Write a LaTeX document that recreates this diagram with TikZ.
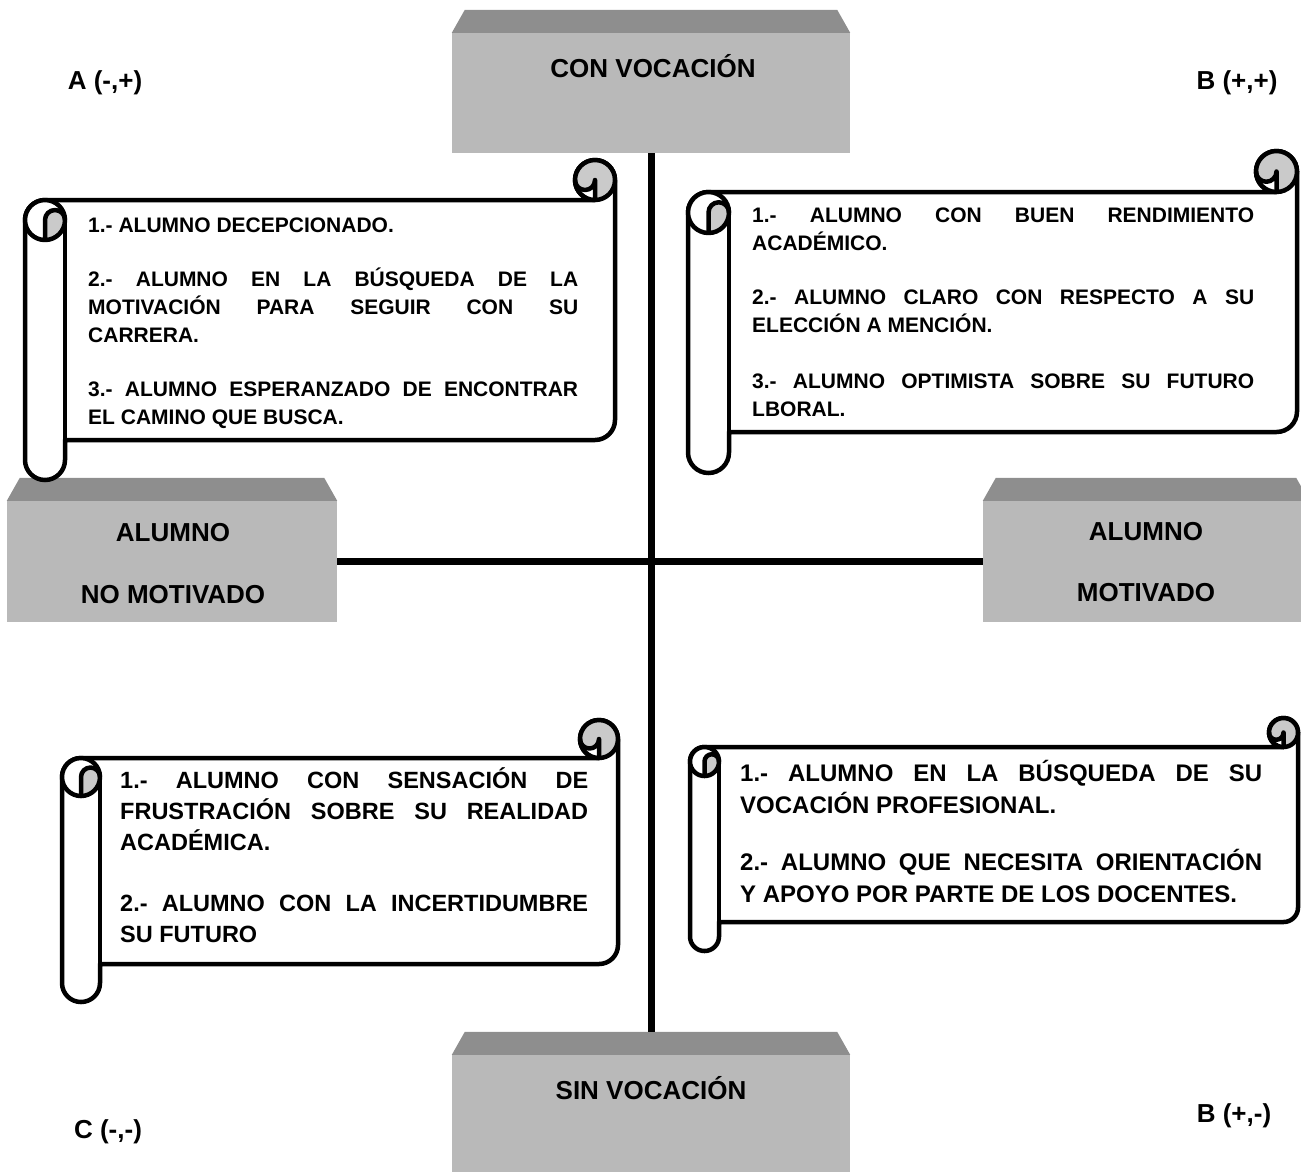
\documentclass[tikz,border=0pt]{standalone}
\usepackage{fontspec}
\setmainfont{Liberation Sans}
\usetikzlibrary{%
  positioning
 ,calc
}
\setlength\parindent{0pt}
\definecolor{gris}{HTML}{B9B9B9}
\definecolor{grisosc}{HTML}{8E8E8E}
\definecolor{grisclaro}{HTML}{CACACA}
\tikzstyle{frente}=[rectangle,fill=gris,draw=none,inner sep=0pt]
\tikzstyle{techo}=[fill=grisosc]
\tikzstyle{rotulo}=[font=\fontsize{26bp}{30bp}\selectfont\bfseries,align=center,inner sep=0pt]
\tikzstyle{esquina}=[rotulo,anchor=base]
\tikzstyle{eje}=[line width=7bp]
\tikzstyle{papel}=[line width=4.5bp,line join=round]
\tikzstyle{texto}=[anchor=base west,inner sep=0pt,align=justify]
% pergamino: x, y, ancho, alto, grosor del rollo
\newcommand\pergamino[5]{%
  \pgfmathsetmacro\rA{#5}\pgfmathsetmacro\rB{#5/2}\pgfmathsetmacro\rQ{#5/4}%
  \pgfmathsetmacro\rW{#3}\pgfmathsetmacro\rH{#4}%
  \begin{scope}[shift={(#1,#2)}]
    \draw[papel,fill=white] (0,\rA+\rB) arc[start angle=180,end angle=270,radius=\rB]
      -- (\rW-\rB,\rA) arc[start angle=90,end angle=360,radius=\rB]
      -- (\rW,\rH-\rA-\rB) arc[start angle=0,end angle=90,radius=\rB]
      -- (\rA,\rH-\rA) -- (\rA,\rH-\rB) arc[start angle=0,end angle=180,radius=\rB] -- cycle;
    % rollo derecho
    \fill[grisclaro] (\rW-\rB,\rB) circle[radius=\rB];
    \fill[white] (\rW-\rB,\rA) -- (\rW-\rB,\rB) arc[start angle=0,end angle=180,radius=\rQ]
      arc[start angle=180,end angle=90,radius=\rB] -- cycle;
    \draw[papel] (\rW-\rB,\rB) circle[radius=\rB];
    \draw[papel] (\rW-\rB,\rA) -- (\rW-\rB,\rB) arc[start angle=0,end angle=180,radius=\rQ];
    % rollo izquierdo
    \fill[white] (\rB,\rA+\rB) circle[radius=\rB];
    \fill[grisclaro] (\rB,\rA+\rA) arc[start angle=90,end angle=0,radius=\rB]
      arc[start angle=0,end angle=-180,radius=\rQ] -- cycle;
    \draw[papel] (\rB,\rA+\rB) circle[radius=\rB];
    \draw[papel] (\rB,\rA+\rA) -- (\rB,\rA+\rB) arc[start angle=180,end angle=360,radius=\rQ];
    \draw[papel] (\rA,\rA+\rB) -- (\rA,\rH-\rA);
  \end{scope}}

\begin{document}
\begin{tikzpicture}[x=1bp,y=-1bp]
  \useasboundingbox (0,0) rectangle (1301,1171);
  \clip (0,0) rectangle (1301,1171);
  % cajas
  \node[frente,minimum width=398bp,minimum height=120bp] (con) at (651,93) {};
  \node[frente,minimum width=330bp,minimum height=121bp] (nomot) at (172,561.5) {};
  \node[frente,minimum width=326bp,minimum height=121bp] (mot) at (1146,561.5) {};
  \node[frente,minimum width=398bp,minimum height=120bp] (sin) at (651,1115) {};
  \foreach \c in {con,nomot,mot,sin}
    \fill[techo] (\c.north west) -- ++(13,-23) -- ($(\c.north east)+(-13,-23)$) -- (\c.north east) -- cycle;
  \coordinate (sintecho) at ($(sin.north)+(0,-23)$);
  \draw[eje] (con.south) -- (sintecho);
  \draw[eje] (nomot.east) -- (mot.west);
  \node[rotulo,anchor=base] (t-con) at (653,77.3) {CON VOCACIÓN};
  \node[rotulo] (t-nomot) at (173,564) {ALUMNO\\[32bp]NO MOTIVADO};
  \node[rotulo] (t-mot) at (1146,562.5) {ALUMNO\\[31bp]MOTIVADO};
  \node[rotulo,anchor=base] (t-sin) at (651,1099.3) {SIN VOCACIÓN};
  % cuadrantes
  \node[esquina] (qa) at (105,89.3) {A (-,+)};
  \node[esquina] (qb) at (1237,89.3) {B (+,+)};
  \node[esquina] (qc) at (108,1138.3) {C (-,-)};
  \node[esquina] (qd) at (1234,1122.3) {B (+,-)};
  % pergaminos
  \pergamino{25}{160}{590}{320}{40}
  \pergamino{688}{151}{609}{322}{41}
  \pergamino{62}{720}{556}{282}{38}
  \pergamino{690}{718}{608}{233}{29}
  \node[texto,text width=490bp,font=\fontsize{21bp}{28bp}\selectfont\bfseries] (txa) at (88,232.5)
    {1.- ALUMNO DECEPCIONADO.\par\vspace{26bp}
     2.- ALUMNO EN LA BÚSQUEDA DE LA\linebreak MOTIVACIÓN PARA SEGUIR CON SU\linebreak CARRERA.\par\vspace{26bp}
     3.- ALUMNO ESPERANZADO DE ENCONTRAR\linebreak EL CAMINO QUE BUSCA.};
  \node[texto,text width=502bp,font=\fontsize{21bp}{28bp}\selectfont\bfseries] (txb) at (752,222.5)
    {1.- ALUMNO CON BUEN RENDIMIENTO\linebreak ACADÉMICO.\par\vspace{26bp}
     2.- ALUMNO CLARO CON RESPECTO A SU\linebreak ELECCIÓN A MENCIÓN.\par\vspace{28bp}
     3.- ALUMNO OPTIMISTA SOBRE SU FUTURO\linebreak LBORAL.};
  \node[texto,text width=468bp,font=\fontsize{23.5bp}{31bp}\selectfont\bfseries] (txc) at (120,788.4)
    {1.- ALUMNO CON SENSACIÓN DE\linebreak FRUSTRACIÓN SOBRE SU REALIDAD\linebreak ACADÉMICA.\par\vspace{30bp}
     2.- ALUMNO CON LA INCERTIDUMBRE\linebreak SU FUTURO};
  \node[texto,text width=522bp,font=\fontsize{24bp}{32bp}\selectfont\bfseries] (txd) at (740,781.6)
    {1.- ALUMNO EN LA BÚSQUEDA DE SU\linebreak VOCACIÓN PROFESIONAL.\par\vspace{25bp}
     2.- ALUMNO QUE NECESITA ORIENTACIÓN\linebreak Y APOYO POR PARTE DE LOS DOCENTES.};
\end{tikzpicture}
\end{document}
